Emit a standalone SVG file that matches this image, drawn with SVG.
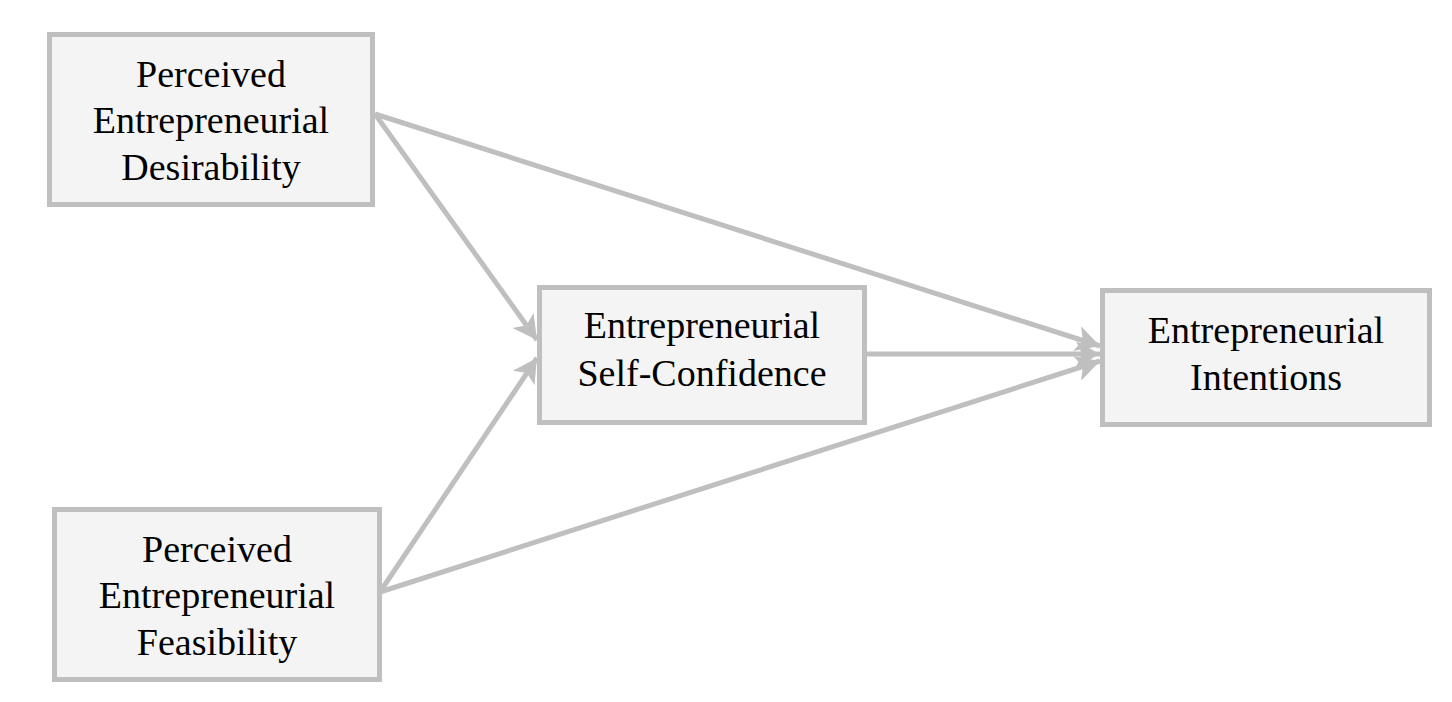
<svg xmlns="http://www.w3.org/2000/svg" width="1452" height="702" viewBox="0 0 1452 702">
<style>
.box{fill:#f4f4f4;stroke:#bfbfbf;stroke-width:5}
.lbl{font-family:"Liberation Serif","Times New Roman",serif;font-size:38px;fill:#000;text-anchor:middle}
.edge{stroke:#bfbfbf;stroke-width:5;fill:none}
</style>
<defs>
<marker id="ah" markerUnits="userSpaceOnUse" markerWidth="30" markerHeight="30" viewBox="0 0 30 30" refX="24" refY="15" orient="auto">
<path d="M0,2 L24,15 L0,28 L6,15 Z" fill="#bfbfbf"/>
</marker>
</defs>
<rect width="1452" height="702" fill="#ffffff"/>
<g id="connectors">
<line class="edge" x1="375" y1="114" x2="537" y2="340" marker-end="url(#ah)"/>
<line class="edge" x1="380" y1="592" x2="537" y2="358" marker-end="url(#ah)"/>
<line class="edge" x1="375" y1="114" x2="1100" y2="346" marker-end="url(#ah)"/>
<line class="edge" x1="865" y1="354" x2="1100" y2="354" marker-end="url(#ah)"/>
<line class="edge" x1="380" y1="592" x2="1100" y2="361" marker-end="url(#ah)"/>
</g>
<g id="desirability">
<rect class="box" x="49.5" y="34.5" width="323" height="170"/>
<text class="lbl" x="211" y="87">Perceived</text>
<text class="lbl" x="211" y="133">Entrepreneurial</text>
<text class="lbl" x="211" y="180">Desirability</text>
</g>
<g id="selfconfidence">
<rect class="box" x="539.5" y="287.5" width="325" height="135"/>
<text class="lbl" x="702" y="338">Entrepreneurial</text>
<text class="lbl" x="702" y="386">Self-Confidence</text>
</g>
<g id="intentions">
<rect class="box" x="1102.5" y="290.5" width="327" height="134"/>
<text class="lbl" x="1266" y="343">Entrepreneurial</text>
<text class="lbl" x="1266" y="390">Intentions</text>
</g>
<g id="feasibility">
<rect class="box" x="54.5" y="509.5" width="325" height="170"/>
<text class="lbl" x="217" y="562">Perceived</text>
<text class="lbl" x="217" y="608">Entrepreneurial</text>
<text class="lbl" x="217" y="655">Feasibility</text>
</g>
</svg>
